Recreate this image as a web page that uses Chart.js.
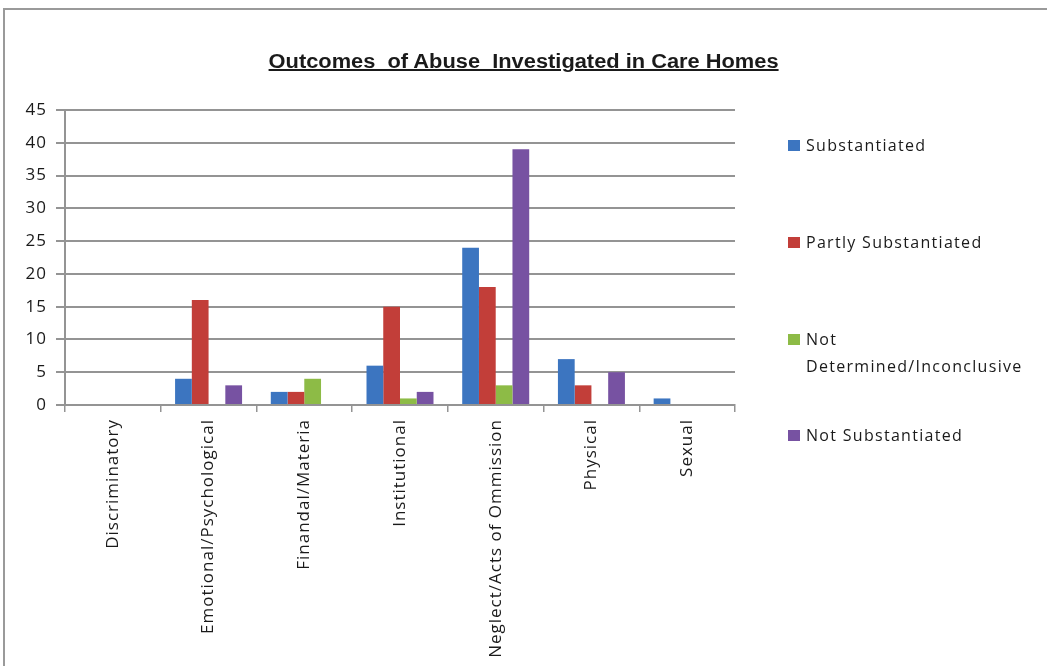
<!DOCTYPE html>
<html>
<head>
<meta charset="utf-8">
<script src="https://cdn.jsdelivr.net/npm/chart.js@4"></script>
<style>
  html, body { margin: 0; padding: 0; background: #fff; width: 1047px; height: 666px; overflow: hidden; position: relative; }
  #frame { position: absolute; left: 3px; top: 8px; width: 1100px; height: 700px; border-top: 2px solid #9a9a9a; border-left: 2px solid #9a9a9a; }
  #wrap { position: absolute; left: 0; top: 0; width: 1047px; height: 666px; }
  #title { position: absolute; top: 50px; left: 0; width: 1047px; text-align: center; }
  #title span { display: inline-block; font-family: "Liberation Sans Narrow", "Liberation Sans", Arial, sans-serif; font-weight: bold; font-size: 20px; text-decoration: underline; color: #1a1a1a; transform-origin: center; white-space: pre; }
  #legend { position: absolute; left: 788px; top: 0; font-family: "Open Sans", sans-serif; font-size: 16px; color: #1a1a1a; letter-spacing: 1.3px; }
  .item { position: absolute; left: 0; width: 260px; line-height: 27px; white-space: nowrap; }
  .sw { position: absolute; left: 0; width: 12px; height: 11px; top: 8px; }
  .txt { position: absolute; left: 18px; }
</style>
</head>
<body>
<div id="frame"></div>
<div id="wrap"><canvas id="c" width="1047" height="666"></canvas></div>
<div id="title"><span id="tspan">Outcomes  of Abuse  Investigated in Care Homes</span></div>
<div id="legend"></div>
<script>
const categories = ["Discriminatory", "Emotional/Psychological", "Finandal/Materia", "Institutional", "Neglect/Acts of Ommission", "Physical", "Sexual"];
const seriesNames = ["Substantiated", "Partly Substantiated", "Not Determined/Inconclusive", "Not Substantiated"];
const substantiated = [0, 4, 2, 6, 24, 7, 1];
const partlySubstantiated = [0, 16, 2, 15, 18, 3, 0];
const notDetermined = [0, 0, 4, 1, 3, 0, 0];
const notSubstantiated = [0, 3, 0, 2, 39, 5, 0];
const yTicks = [0, 5, 10, 15, 20, 25, 30, 35, 40, 45];
const colors = ["#3c75c0", "#c23e39", "#8dbb46", "#7752a2"];

// title width fit
const ts = document.getElementById('tspan');
const tw = ts.getBoundingClientRect().width;
ts.style.transform = 'scaleX(' + (510 / tw) + ')';

// legend
const legendPos = [[132, ["Substantiated"]], [229, ["Partly Substantiated"]], [326, ["Not", "Determined/Inconclusive"]], [422, ["Not Substantiated"]]];
const leg = document.getElementById('legend');
seriesNames.forEach((n, i) => {
  const it = document.createElement('div');
  it.className = 'item';
  it.style.top = legendPos[i][0] + 'px';
  const sw = document.createElement('div');
  sw.className = 'sw';
  sw.style.background = colors[i];
  it.appendChild(sw);
  const t = document.createElement('div');
  t.className = 'txt';
  t.innerHTML = legendPos[i][1].join('<br>');
  it.appendChild(t);
  leg.appendChild(it);
});

const spacingPlugin = {
  id: 'spacing',
  beforeDraw(chart) { chart.ctx.letterSpacing = '1px'; }
};

const seriesData = [substantiated, partlySubstantiated, notDetermined, notSubstantiated];
const gridColor = '#949494';
new Chart(document.getElementById('c'), {
  type: 'bar',
  plugins: [spacingPlugin],
  data: {
    labels: categories,
    datasets: seriesNames.map((n, i) => ({
      label: n,
      data: seriesData[i],
      backgroundColor: colors[i],
      borderWidth: 0,
      categoryPercentage: 0.7,
      barPercentage: 1.0
    }))
  },
  options: {
    responsive: false,
    animation: false,
    events: [],
    layout: { padding: { top: 110, right: 312, left: 10, bottom: 10 } },
    plugins: { legend: { display: false }, title: { display: false }, tooltip: { enabled: false } },
    scales: {
      x: {
        grid: { display: true, drawOnChartArea: false, offset: true, tickLength: 7, color: gridColor, lineWidth: 1.5 },
        border: { display: true, color: gridColor, width: 2 },
        ticks: { autoSkip: false, maxRotation: 90, minRotation: 90, padding: 7, color: '#1a1a1a', font: { family: 'Open Sans', size: 17 } },
        afterFit: (s) => { s.height = 251; }
      },
      y: {
        min: 0, max: 45,
        afterBuildTicks: (s) => { s.ticks = yTicks.map(v => ({ value: v })); },
        grid: { color: gridColor, lineWidth: 2, tickLength: 9 },
        border: { display: true, color: gridColor, width: 2 },
        ticks: { padding: 9, color: '#1a1a1a', font: { family: 'Open Sans', size: 17 } },
        afterFit: (s) => { s.width = 55; }
      }
    }
  }
});
</script>
</body>
</html>
